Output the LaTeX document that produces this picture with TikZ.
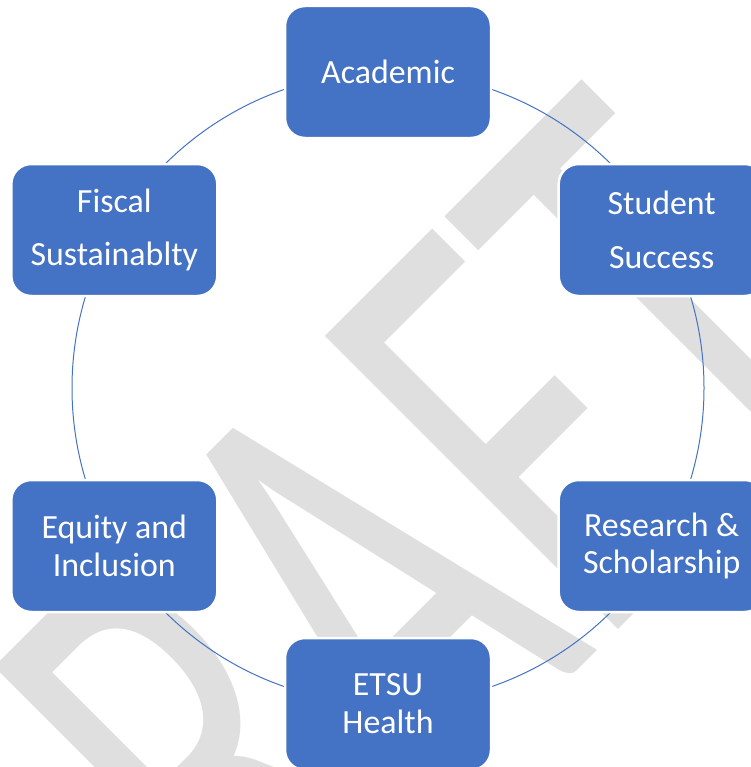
\documentclass[tikz,border=0pt]{standalone}
\usepackage{fontspec}
\newfontfamily\carlito{Carlito}
\definecolor{boxblue}{HTML}{4472C4}
\definecolor{wmgray}{HTML}{DFDFDF}
\begin{document}
\begin{tikzpicture}[x=1bp,y=-1bp,
  pillar/.style={rectangle, rounded corners=20bp, fill=boxblue, draw=white,
    line width=2.5bp, minimum width=206bp, minimum height=132bp, text=white,
    align=center, font=\carlito\fontsize{34}{38}\selectfont, inner sep=0pt},
  ring/.style={draw=boxblue, line width=1bp}]
\useasboundingbox (0,0) rectangle (751,767);
\begin{scope}
\clip (0,0) rectangle (751,767);
\node[rotate=45, text=wmgray, inner sep=0pt] (wm) at (335,620)
  {\resizebox{1119bp}{414bp}{\carlito DRAFT}};
\coordinate (c) at (388,388);
\draw[ring] (c) circle[radius=316];
\node[pillar] (acad) at (388,72) {Academic};
\node[pillar] (stud) at (661.7,230) {Student\\[16bp]Success};
\node[pillar] (res)  at (661.7,546) {Research \&\\Scholarship};
\node[pillar] (etsu) at (388,704) {ETSU\\Health};
\node[pillar] (eq)   at (114.3,546) {Equity and\\Inclusion};
\node[pillar] (fis)  at (114.3,230) {Fiscal\\[16bp]Sustainablty};
\end{scope}
\end{tikzpicture}
\end{document}
